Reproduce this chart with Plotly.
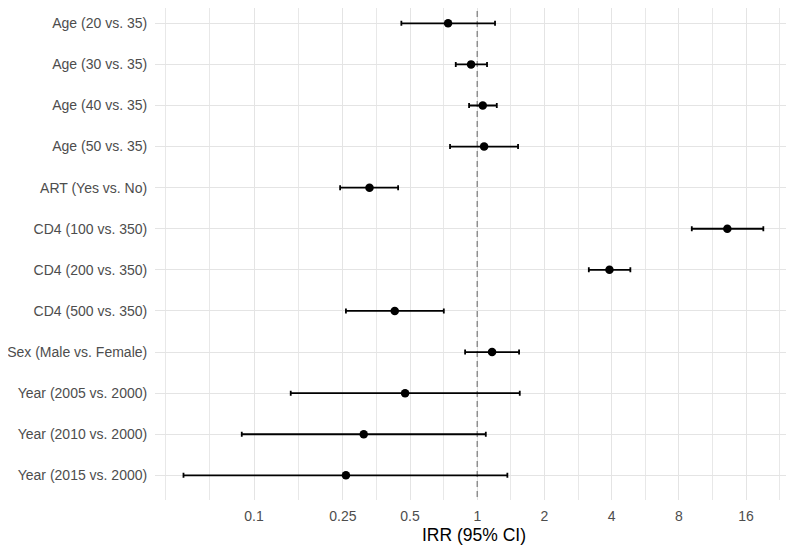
import plotly.graph_objects as go

labels = ["Age (20 vs. 35)", "Age (30 vs. 35)", "Age (40 vs. 35)", "Age (50 vs. 35)",
          "ART (Yes vs. No)", "CD4 (100 vs. 350)", "CD4 (200 vs. 350)", "CD4 (500 vs. 350)",
          "Sex (Male vs. Female)", "Year (2005 vs. 2000)", "Year (2010 vs. 2000)",
          "Year (2015 vs. 2000)"]
irr = [0.740, 0.938, 1.058, 1.073, 0.329, 13.19, 3.91, 0.427, 1.165, 0.475, 0.310, 0.258]
lower = [0.457, 0.801, 0.919, 0.755, 0.243, 9.14, 3.16, 0.258, 0.882, 0.146, 0.0881, 0.0483]
upper = [1.201, 1.106, 1.223, 1.523, 0.442, 19.12, 4.85, 0.708, 1.539, 1.55, 1.092, 1.364]

x_ticks = [0.1, 0.25, 0.5, 1, 2, 4, 8, 16]
x_ticktext = ["0.1", "0.25", "0.5", "1", "2", "4", "8", "16"]
x_minor = [0.04, 0.0632, 0.158, 0.354, 0.707, 1.414, 2.83, 5.66, 11.31, 22.6, 25.3]
x_title = "IRR (95% CI)"

ypos = list(range(len(labels)))

fig = go.Figure()

# reference line at IRR = 1
fig.add_trace(go.Scatter(
    x=[1, 1], y=[-2, len(labels) + 1], mode="lines",
    line=dict(color="#8f8f8f", width=1.5, dash="6px,4px"),
    hoverinfo="skip", showlegend=False))

fig.add_trace(go.Scatter(
    x=irr, y=ypos, mode="markers",
    marker=dict(color="black", size=8.5, line=dict(width=0)),
    error_x=dict(type="data", symmetric=False,
                 array=[u - m for u, m in zip(upper, irr)],
                 arrayminus=[m - l for m, l in zip(irr, lower)],
                 color="black", thickness=1.8, width=2.5),
    showlegend=False))

fig.add_annotation(
    text=x_title, xref="paper", yref="paper", x=0.5, y=-0.0711,
    xanchor="center", yanchor="middle", showarrow=False,
    font=dict(size=17.5, color="black"))

# page body adds an 8px margin at left and top, so the figure is 8px smaller
fig.update_layout(
    width=786, height=538,
    margin=dict(l=147, r=2, t=0, b=46, autoexpand=False),
    paper_bgcolor="white", plot_bgcolor="white",
    font=dict(family="Liberation Sans, Arial, sans-serif", color="#4d4d4d", size=14),
    xaxis=dict(
        type="log",
        range=[-1.4437, 1.4099],
        tickvals=x_ticks, ticktext=x_ticktext,
        showgrid=True, gridcolor="#e4e4e4", gridwidth=1.3,
        zeroline=False, showline=False,
        ticks="outside", ticklen=3, tickcolor="rgba(0,0,0,0)", automargin=False,
        tickfont=dict(size=14, color="#4d4d4d"),
        minor=dict(tickvals=x_minor, showgrid=True, gridcolor="#e8e8e8", gridwidth=1.1,
                   ticks=""),
    ),
    yaxis=dict(
        range=[11.6, -0.372],
        tickvals=ypos, ticktext=labels,
        showgrid=True, gridcolor="#e4e4e4", gridwidth=1.3,
        zeroline=False, showline=False,
        ticks="outside", ticklen=4, tickcolor="rgba(0,0,0,0)", automargin=False,
        tickfont=dict(size=14, color="#4d4d4d"),
    ),
)

fig.write_html("out.html")
